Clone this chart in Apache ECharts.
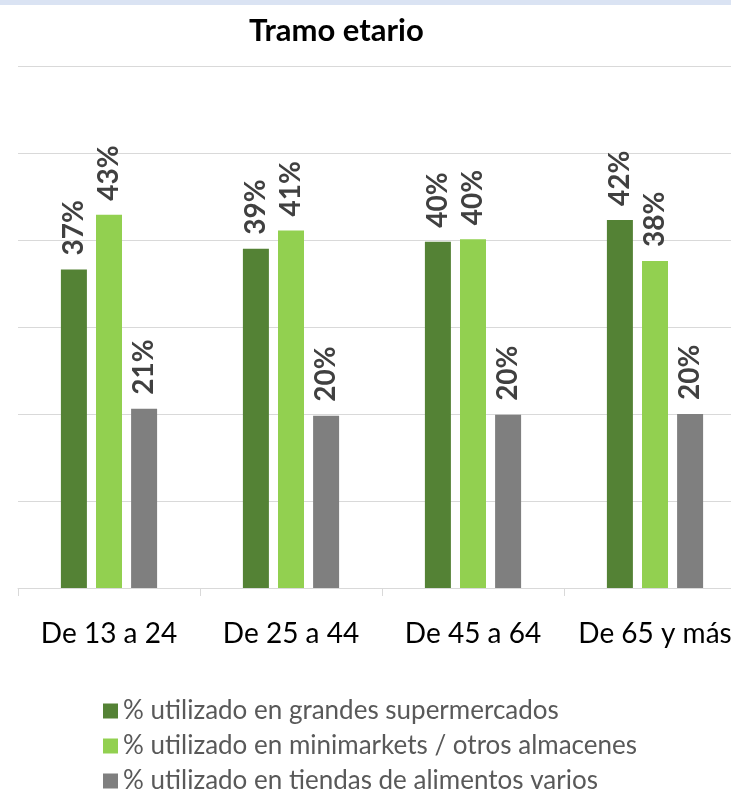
<!DOCTYPE html>
<html lang="es">
<head>
    <meta charset="UTF-8">
    <title>Tramo etario</title>
    <script src="https://cdn.jsdelivr.net/npm/echarts@6.0.0/dist/echarts.min.js"></script>
    <style>
        html, body { margin: 0; padding: 0; background: #fff; }
        #chart { width: 731px; height: 795px; }
    </style>
</head>
<body>
    <div id="chart"></div>
    <script>
        // datos
        const categories = ['De 13 a 24', 'De 25 a 44', 'De 45 a 64', 'De 65 y más'];
        const seriesNames = [
            '% utilizado en grandes supermercados',
            '% utilizado en minimarkets / otros almacenes',
            '% utilizado en tiendas de alimentos varios'
        ];
        const supermercados = [36.6, 39.0, 39.8, 42.3];
        const minimarkets = [42.9, 41.1, 40.1, 37.6];
        const tiendas = [20.6, 19.8, 19.9, 20.0];
        const colors = ['#548235', '#92d050', '#7f7f7f'];

        const chart = echarts.init(document.getElementById('chart'));
        const font = 'Lato, "Noto Sans", sans-serif';

        const mkSeries = (name, data, color) => ({
            name: name,
            type: 'bar',
            data: data,
            barWidth: 26,
            barGap: '35%',
            itemStyle: { color: color },
            label: {
                show: true,
                position: 'top',
                rotate: 90,
                align: 'left',
                verticalAlign: 'middle',
                distance: 14,
                fontSize: 28,
                fontWeight: 'bold',
                fontFamily: font,
                color: '#404040',
                formatter: p => Math.round(p.value) + '%'
            }
        });

        chart.setOption({
            animation: false,
            textStyle: { fontFamily: font },
            graphic: [{
                type: 'rect',
                shape: { x: 0, y: 0, width: 731, height: 5 },
                style: { fill: '#dae3f3' }
            }],
            title: {
                text: 'Tramo etario',
                left: 249,
                top: 15,
                padding: 0,
                textStyle: { fontSize: 31, fontWeight: 'bold', color: '#000', fontFamily: font }
            },
            legend: {
                orient: 'vertical',
                left: 103,
                top: 698,
                padding: 0,
                itemWidth: 15,
                itemHeight: 15,
                itemGap: 9,
                icon: 'rect',
                textStyle: { fontSize: 26, color: '#595959', lineHeight: 26, fontFamily: font },
                data: seriesNames
            },
            grid: { left: 18, right: -15, top: 66, bottom: 207, outerBoundsMode: 'none' },
            xAxis: {
                type: 'category',
                data: categories,
                axisLine: { lineStyle: { color: '#d9d9d9' } },
                axisTick: { show: true, interval: 0, alignWithLabel: false, length: 8, lineStyle: { color: '#d9d9d9' } },
                axisLabel: { interval: 0, hideOverlap: false, fontSize: 28, color: '#000', margin: 32, fontFamily: font }
            },
            yAxis: {
                type: 'value',
                min: 0,
                max: 60,
                interval: 10,
                axisLabel: { show: false },
                axisLine: { show: false },
                axisTick: { show: false },
                splitLine: { lineStyle: { color: '#d9d9d9' } }
            },
            series: [
                mkSeries(seriesNames[0], supermercados, colors[0]),
                mkSeries(seriesNames[1], minimarkets, colors[1]),
                mkSeries(seriesNames[2], tiendas, colors[2])
            ]
        });
    </script>
</body>
</html>
